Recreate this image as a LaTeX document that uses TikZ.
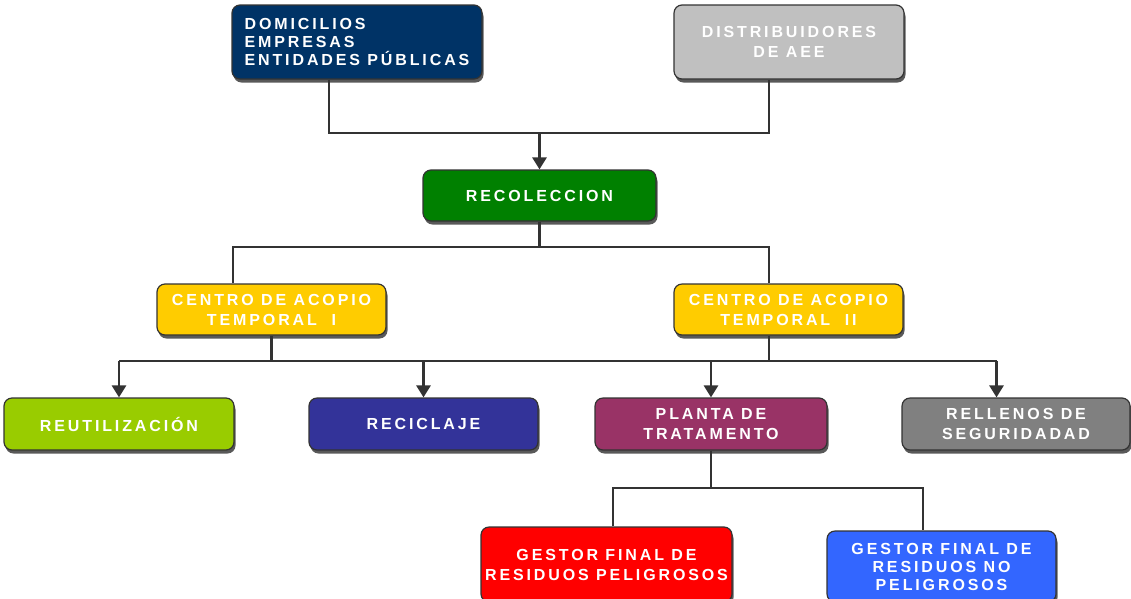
\documentclass[tikz,border=0pt]{standalone}
\usepackage{fontspec}
\setmainfont{Liberation Sans}[LetterSpace=18]
\usetikzlibrary{arrows.meta,shadows}

\definecolor{azul}{RGB}{0,51,102}
\definecolor{plata}{RGB}{192,192,192}
\definecolor{verde}{RGB}{0,128,0}
\definecolor{amarillo}{RGB}{255,204,0}
\definecolor{lima}{RGB}{153,204,0}
\definecolor{indigo}{RGB}{51,51,153}
\definecolor{ciruela}{RGB}{153,51,102}
\definecolor{gris}{RGB}{128,128,128}
\definecolor{rojo}{RGB}{255,0,0}
\definecolor{celeste}{RGB}{51,102,255}

\begin{document}
\begin{tikzpicture}[x=1pt,y=-1pt,>={Triangle[width=14pt,length=12pt]},
  caja/.style={draw=black!80,line width=1.2pt,rounded corners=8pt,text=white,
    font=\bfseries\fontsize{16}{20}\selectfont,align=center,inner sep=1pt,
    drop shadow={shadow xshift=1.5pt,shadow yshift=-3.5pt,fill=black!65,opacity=1}},
  linea/.style={line width=2.8pt,draw=black!80}]
   \useasboundingbox (0,0) rectangle (1131,598);

   % origen
   \node[caja,fill=azul,minimum width=250pt,minimum height=74pt,align=left,
     font=\bfseries\fontsize{16}{18}\selectfont] (dom) at (357,42)
     {DOMICILIOS\\EMPRESAS\\ENTIDADES PÚBLICAS};
   \node[caja,fill=plata,minimum width=230pt,minimum height=74pt] (dist) at (789,42)
     {DISTRIBUIDORES\\DE AEE};
   \node[caja,fill=verde,minimum width=233pt,minimum height=51pt] (rec) at (539.5,195.5)
     {RECOLECCION};

   % acopio
   \node[caja,fill=amarillo,minimum width=229pt,minimum height=51pt] (c1) at (271.5,309.5)
     {CENTRO DE ACOPIO\\TEMPORAL\ \ I};
   \node[caja,fill=amarillo,minimum width=229pt,minimum height=51pt] (c2) at (788.5,309.5)
     {CENTRO DE ACOPIO\\TEMPORAL\ \ II};

   % destinos
   \node[caja,fill=lima,minimum width=230pt,minimum height=52pt] (reu) at (119,424) {REUTILIZACIÓN};
   \node[caja,fill=indigo,minimum width=229pt,minimum height=52pt] (rcl) at (423.5,424) {RECICLAJE};
   \node[caja,fill=ciruela,minimum width=232pt,minimum height=52pt] (pla) at (711,424)
     {PLANTA DE\\TRATAMENTO};
   \node[caja,fill=gris,minimum width=228pt,minimum height=52pt] (rel) at (1016,424)
     {RELLENOS DE\\SEGURIDADAD};

   % gestores
   \node[caja,fill=rojo,minimum width=251pt,minimum height=75pt] (gp) at (606.5,564.5)
     {GESTOR FINAL DE\\RESIDUOS PELIGROSOS};
   \node[caja,fill=celeste,minimum width=229pt,minimum height=71pt,
     font=\bfseries\fontsize{16}{18}\selectfont] (gnp) at (941.5,566.5)
     {GESTOR FINAL DE\\RESIDUOS NO\\PELIGROSOS};

   % conexiones
   \coordinate (j1) at (539.5,133);
   \coordinate (j2) at (539.5,247);
   \coordinate (h3) at (0,361);
   \coordinate (h4) at (0,488);

   \draw[linea] ([xshift=-28pt]dom.south) |- (j1) -| ([xshift=-20pt]dist.south);
   \draw[linea,->] (j1) -- (rec.north);

   \draw[linea] (rec.south) -- (j2);
   \draw[linea] ([xshift=-38.5pt]c1.north) |- (j2) -| ([xshift=-19.5pt]c2.north);

   \draw[linea] (c1.south) -- (c1.south |- h3);
   \draw[linea] ([xshift=-19.5pt]c2.south) -- ([xshift=-19.5pt]c2.south |- h3);
   \draw[linea] (reu.north |- h3) -- ([xshift=-19.5pt]rel.north |- h3);
   \foreach \n in {reu,rcl,pla}
     \draw[linea,->] (\n.north |- h3) -- (\n.north);
   \draw[linea,->] ([xshift=-19.5pt]rel.north |- h3) -- ([xshift=-19.5pt]rel.north);

   \draw[linea] (pla.south) -- (pla.south |- h4);
   \draw[linea] ([xshift=6.5pt]gp.north) |- (pla.south |- h4) -| ([xshift=-18.5pt]gnp.north);

\end{tikzpicture}
\end{document}
